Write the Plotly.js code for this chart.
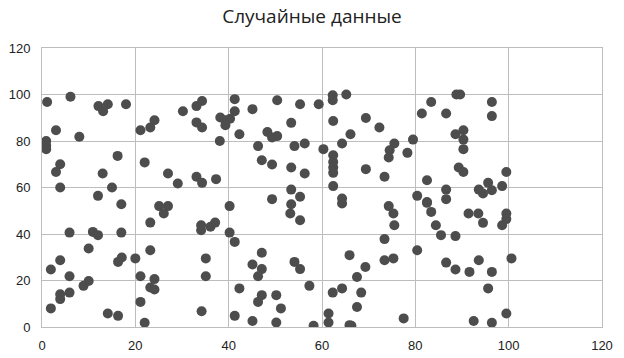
<!DOCTYPE html>
<html>
<head>
<meta charset="utf-8">
<script src="https://cdn.plot.ly/plotly-3.0.1.min.js"></script>
<style>html,body{margin:0;padding:0;background:#fff;}#chart{width:624px;height:358px;}</style>
</head>
<body>
<div id="chart"></div>
<script>
const chartTitle = "Случайные данные";
const xValues = [
1.1,6.1,12.1,14.1,13.1,18.0,3.0,8.0,0.9,0.9,0.9,16.2,3.9,3.0,13.0,3.9,15.0,12.0,17.0,21.1,23.2,24.1,30.2,22.0,27.0,29.1,25.1,27.0,
34.3,33.1,41.3,41.3,45.1,50.4,55.3,59.3,62.3,62.3,65.2,33.1,34.3,38.2,39.3,40.3,39.3,42.3,48.3,49.3,50.4,53.4,62.4,66.1,38.1,46.3,54.1,56.3,60.3,64.3,62.4,62.4,62.4,62.4,47.1,49.3,53.4,56.3,33.1,34.3,37.3,62.4,53.4,55.3,49.3,53.4,40.2,64.3,64.3,
88.8,89.6,83.4,81.4,86.6,96.4,96.4,69.4,72.3,88.6,90.3,90.3,90.3,79.5,75.5,74.5,74.3,78.3,69.4,73.4,89.3,90.3,99.5,82.5,80.4,82.5,86.6,86.6,93.6,94.5,95.6,96.4,98.6,
5.9,10.9,12.0,17.0,10.0,3.9,1.9,16.3,17.1,20.0,23.2,5.9,8.9,10.0,3.9,3.9,5.9,1.9,14.1,16.3,21.1,24.1,23.2,24.1,21.1,22.0,23.2,26.1,
34.1,34.1,36.1,37.1,40.2,41.3,35.1,35.1,34.2,47.1,45.1,47.1,46.3,54.1,55.3,57.3,42.3,47.1,46.3,50.2,51.2,41.3,45.1,50.2,58.2,53.2,55.3,62.3,64.3,61.4,61.4,65.9,65.9,
74.3,75.3,75.5,82.5,83.4,84.4,85.5,88.6,91.4,93.5,94.5,99.5,99.5,98.6,73.4,80.4,73.4,75.3,69.3,67.5,86.6,88.6,91.6,93.6,96.4,100.6,95.6,68.4,67.5,66.3,77.5,92.5,96.4,99.5
];
const yValues = [
96.8,99.0,95.0,95.8,92.8,95.8,84.6,81.8,80.0,78.0,76.5,73.6,70.0,66.7,66.0,60.0,60.0,56.4,52.8,84.6,85.8,88.9,92.8,70.8,66.0,61.7,52.0,52.0,
97.2,95.0,98.0,92.8,93.7,97.5,95.8,95.8,99.7,97.5,100,88.0,85.8,90.1,88.9,89.6,86.8,82.9,83.9,81.5,82.1,87.8,88.6,82.9,80.0,77.8,77.8,78.9,76.5,78.9,73.9,71.0,68.6,66.3,71.7,69.9,68.6,66.0,64.6,62.0,63.6,60.6,59.1,56.0,55.0,52.8,52.0,55.3,53.1,
100,100,96.8,91.8,91.8,96.8,90.7,89.9,85.8,82.9,84.6,80.6,76.5,80.6,78.9,76.0,72.9,74.9,67.9,64.6,68.6,66.7,66.7,63.1,56.4,53.8,59.1,55.0,59.1,57.4,62.0,58.8,60.6,
40.6,40.9,39.5,40.6,33.8,28.7,24.7,28.0,29.9,29.5,33.0,21.8,17.7,19.8,14.1,12.0,14.8,8.0,5.8,4.8,21.8,20.6,17.0,16.1,10.8,1.8,44.9,48.8,
43.8,41.6,43.1,44.9,40.6,36.6,29.5,21.8,6.8,31.9,26.9,24.9,21.8,28.0,24.9,17.7,16.6,13.7,10.8,13.7,8.0,4.8,2.6,1.9,0.5,48.8,45.9,14.8,16.6,5.8,1.9,0.8,30.9,
52.0,48.8,43.8,53.4,49.5,43.8,39.5,39.1,48.8,48.8,44.8,48.8,46.4,43.8,37.8,33.0,28.7,29.5,25.8,21.5,27.7,24.7,23.7,28.7,23.7,29.5,16.6,14.8,8.6,0.5,3.7,2.6,1.8,5.8
];
const tickValues = [0,20,40,60,80,100,120];

const trace = {
  x: xValues, y: yValues, type: 'scatter', mode: 'markers',
  marker: {color: '#4d4d4d', size: 10, line: {width: 0}},
  hoverinfo: 'x+y'
};
const axisCommon = {
  range: [0,120], tickvals: tickValues, ticktext: tickValues.map(String),
  showgrid: true, gridcolor: '#bdbdbd', gridwidth: 1,
  zeroline: false, showline: true, mirror: true, linecolor: '#bdbdbd', linewidth: 1,
  ticks: '', tickfont: {family: 'Liberation Sans, Arial, sans-serif', size: 13, color: '#222'},
  fixedrange: true
};
const layout = {
  width: 624, height: 358,
  margin: {l: 42, r: 22, t: 48, b: 31, pad: 0},
  paper_bgcolor: '#fff', plot_bgcolor: '#fff',
  title: {text: chartTitle, x: 0.5, xanchor: 'center', y: 0.955, yanchor: 'middle',
          font: {family: 'Open Sans, Liberation Sans, sans-serif', size: 19, color: '#222'}},
  xaxis: Object.assign({}, axisCommon, {ticklabelstandoff: 6}),
  yaxis: Object.assign({}, axisCommon, {ticklabelstandoff: 8}),
  showlegend: false
};
Plotly.newPlot('chart', [trace], layout, {displayModeBar: false, staticPlot: true});
</script>
</body>
</html>
